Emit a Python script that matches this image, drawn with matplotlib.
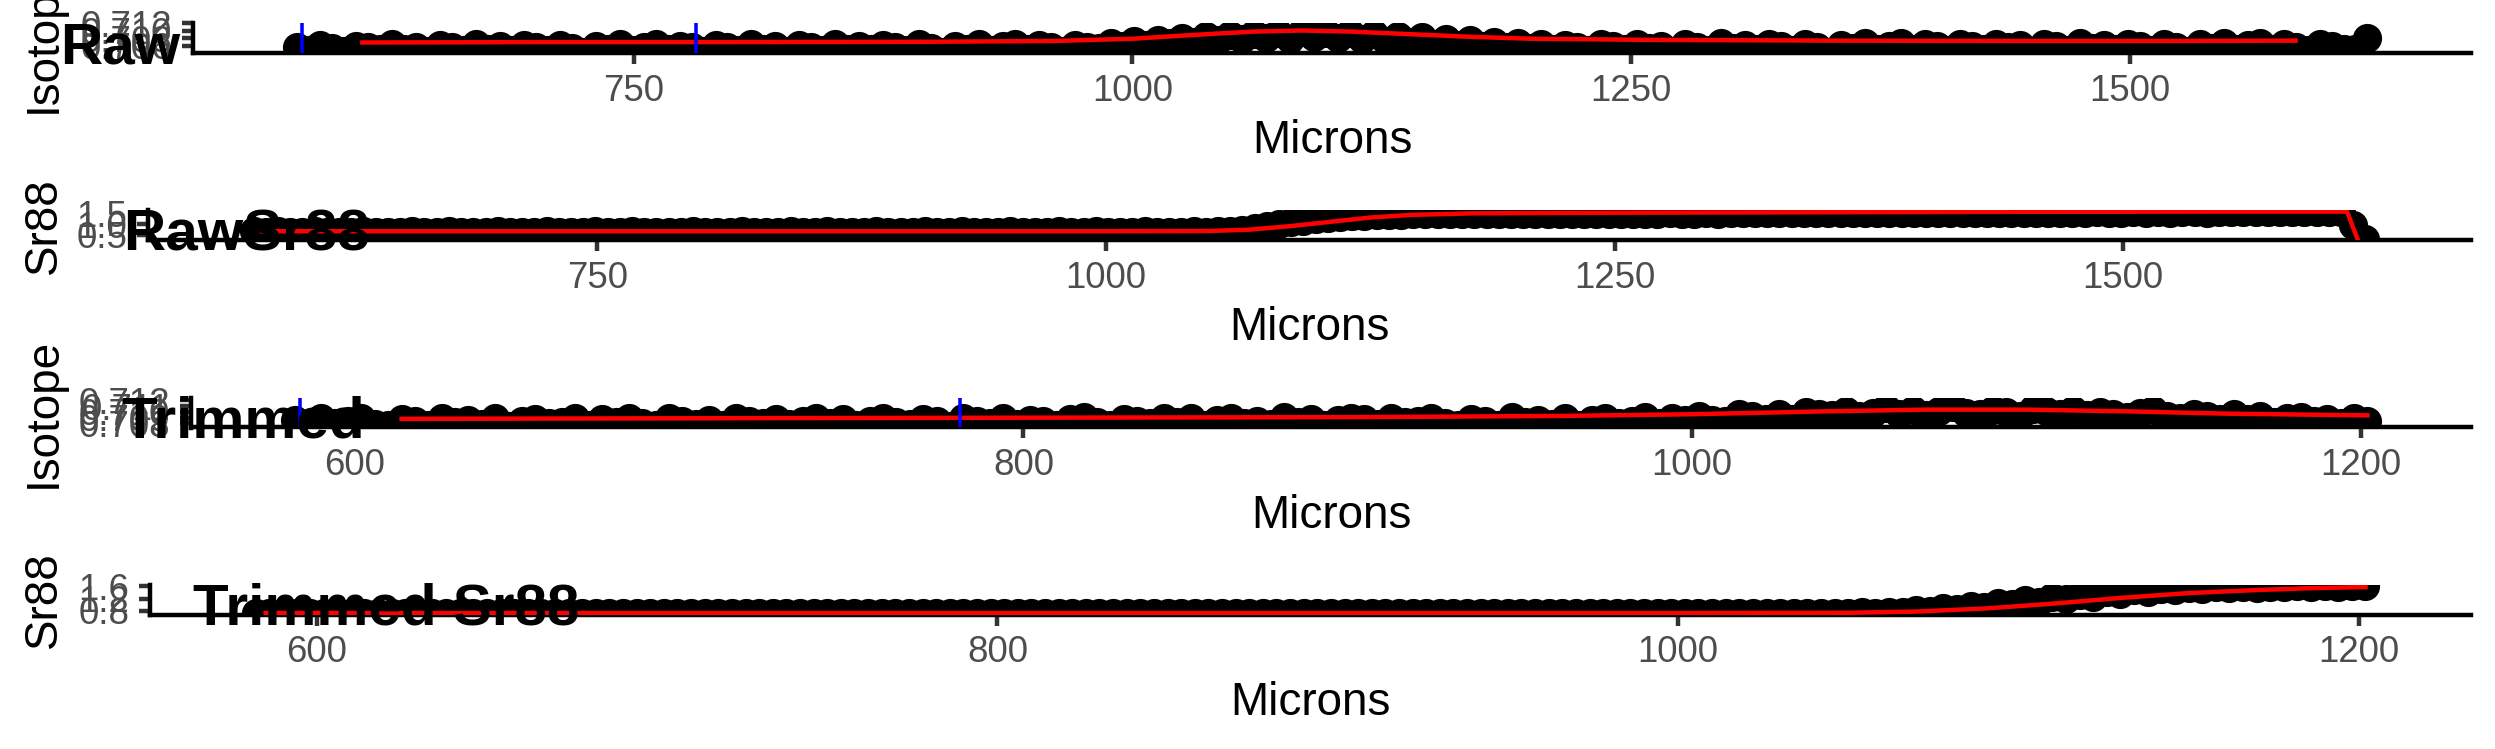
import numpy as np
import matplotlib
matplotlib.use("Agg")
import matplotlib.pyplot as plt

plt.rcParams['font.family'] = ['Liberation Sans', 'DejaVu Sans']

# laser transect: sample positions (microns), regular spacing
RAW_START, RAW_STEP, RAW_N = 581, 6, 174
TRIM_START, TRIM_STEP, TRIM_N = 582, 4, 156
raw_x = RAW_START + RAW_STEP * np.arange(RAW_N)
trim_x = TRIM_START + TRIM_STEP * np.arange(TRIM_N)

raw_iso = [
    0.7058, 0.7050, 0.7063, 0.7055, 0.7047, 0.7061, 0.7057, 0.7051, 0.7064, 0.7053,
    0.7058, 0.7046, 0.7062, 0.7056, 0.7049, 0.7065, 0.7052, 0.7059, 0.7050, 0.7062,
    0.7057, 0.7048, 0.7063, 0.7054, 0.7045, 0.7060, 0.7052, 0.7064, 0.7049, 0.7058,
    0.7066, 0.7051, 0.7061, 0.7056, 0.7047, 0.7062, 0.7057, 0.7050, 0.7064, 0.7053,
    0.7059, 0.7046, 0.7063, 0.7056, 0.7049, 0.7065, 0.7053, 0.7060, 0.7051, 0.7062,
    0.7058, 0.7048, 0.7064, 0.7055, 0.7044, 0.7061, 0.7053, 0.7064, 0.7050, 0.7059,
    0.7066, 0.7052, 0.7062, 0.7057, 0.7047, 0.7063, 0.7058,
    0.7054, 0.7067, 0.7060, 0.7072, 0.7062, 0.7077, 0.7068, 0.7082, 0.7071, 0.7086,
    0.7075, 0.7090, 0.7078, 0.7093,
    0.7082, 0.7095, 0.7079, 0.7096, 0.7085, 0.7094, 0.7080, 0.7095,
    0.7078, 0.7091, 0.7074, 0.7087, 0.7070, 0.7083, 0.7066, 0.7079, 0.7062, 0.7075,
    0.7059, 0.7071, 0.7056, 0.7068, 0.7054,
    0.7065, 0.7052, 0.7063, 0.7057, 0.7048, 0.7064, 0.7059, 0.7051, 0.7066, 0.7055,
    0.7061, 0.7046, 0.7065, 0.7058, 0.7050, 0.7067, 0.7055, 0.7062, 0.7052, 0.7064,
    0.7060, 0.7049, 0.7066, 0.7057, 0.7044, 0.7063, 0.7054, 0.7067, 0.7051, 0.7061,
    0.7067, 0.7053, 0.7064, 0.7059, 0.7048, 0.7065, 0.7060, 0.7052, 0.7066, 0.7056,
    0.7062, 0.7047, 0.7066, 0.7059, 0.7050, 0.7067, 0.7055, 0.7063, 0.7052, 0.7065,
    0.7060, 0.7049, 0.7066, 0.7057, 0.7046, 0.7064, 0.7055, 0.7067, 0.7051, 0.7062,
    0.7068, 0.7053, 0.7065, 0.7058, 0.7049, 0.7066, 0.7060, 0.7052, 0.7052, 0.7080,
]
raw_iso_fit_x = [614, 700, 800, 900, 960, 1000, 1030, 1060, 1085, 1110, 1140, 1170,
                 1200, 1260, 1350, 1450, 1520, 1583]
raw_iso_fit = [0.7069, 0.7070, 0.7070, 0.7071, 0.7073, 0.7079, 0.7089, 0.7098, 0.7101,
               0.7098, 0.7091, 0.7084, 0.7079, 0.7076, 0.7074, 0.7073, 0.7073, 0.7074]

raw_sr88 = [
    0.66, 0.65, 0.66, 0.64, 0.65, 0.66, 0.65, 0.64, 0.65, 0.66,
    0.65, 0.65, 0.64, 0.66, 0.65, 0.65, 0.66, 0.64, 0.65, 0.65,
    0.66, 0.65, 0.64, 0.65, 0.66, 0.65, 0.65, 0.64, 0.66, 0.65,
    0.65, 0.66, 0.65, 0.64, 0.65, 0.65, 0.66, 0.65, 0.64, 0.65,
    0.66, 0.65, 0.65, 0.64, 0.66, 0.65, 0.65, 0.66, 0.64, 0.65,
    0.65, 0.66, 0.65, 0.65, 0.64, 0.66, 0.65, 0.65, 0.66, 0.65,
    0.64, 0.65, 0.66, 0.65, 0.65, 0.64, 0.66, 0.65, 0.65, 0.66,
    0.65, 0.64, 0.65, 0.66, 0.65, 0.65, 0.64, 0.66, 0.65,
    0.66, 0.69, 0.75, 0.83, 0.92, 1.01, 1.09, 1.16, 1.22, 1.27,
    1.31, 1.35, 1.38, 1.40, 1.42, 1.43,
    1.44, 1.45, 1.44, 1.45, 1.46, 1.45, 1.46, 1.46, 1.45, 1.47,
    1.46, 1.47, 1.47, 1.46, 1.47, 1.48, 1.47, 1.48, 1.47, 1.48,
    1.48, 1.49, 1.48, 1.48, 1.49, 1.48, 1.49, 1.50, 1.49, 1.49,
    1.50, 1.49, 1.50, 1.50, 1.49, 1.50, 1.51, 1.50, 1.50, 1.51,
    1.50, 1.51, 1.51, 1.50, 1.51, 1.52, 1.51, 1.51, 1.52, 1.51,
    1.52, 1.51, 1.52, 1.52, 1.51, 1.52, 1.53, 1.52, 1.52, 1.53,
    1.52, 1.53, 1.52, 1.53, 1.53, 1.52, 1.53, 1.54, 1.53, 1.53,
    1.54, 1.53, 1.54, 1.53, 1.54, 1.54, 1.53,
    0.95, 0.32,
]
raw_sr88_fit_x = [585, 700, 800, 900, 1000, 1050, 1070, 1090, 1110, 1130, 1150, 1180,
                  1250, 1350, 1450, 1550, 1610, 1615]
raw_sr88_fit = [0.67, 0.67, 0.67, 0.67, 0.67, 0.68, 0.74, 0.90, 1.10, 1.30, 1.42, 1.49,
                1.52, 1.54, 1.56, 1.57, 1.57, 0.34]

trim_iso = [
    0.7086, 0.7078, 0.7089, 0.7081, 0.7084, 0.7090, 0.7079, 0.7077, 0.7088, 0.7084,
    0.7078, 0.7090, 0.7082, 0.7086, 0.7079, 0.7089, 0.7076, 0.7085, 0.7088, 0.7080,
    0.7083, 0.7090, 0.7077, 0.7087, 0.7082, 0.7089, 0.7080, 0.7078, 0.7090, 0.7085,
    0.7079, 0.7086, 0.7077, 0.7089, 0.7084, 0.7081, 0.7088, 0.7079, 0.7084, 0.7090,
    0.7080, 0.7088, 0.7077, 0.7085, 0.7090, 0.7082, 0.7079, 0.7087, 0.7084, 0.7076,
    0.7089, 0.7085, 0.7080, 0.7090, 0.7079, 0.7086, 0.7084, 0.7077, 0.7088, 0.7091,
    0.7082, 0.7078, 0.7087, 0.7085, 0.7080, 0.7090, 0.7082, 0.7089, 0.7078, 0.7086,
    0.7089, 0.7080, 0.7084, 0.7079, 0.7091, 0.7083, 0.7088, 0.7077, 0.7086, 0.7090,
    0.7087, 0.7079, 0.7090, 0.7082, 0.7085, 0.7090, 0.7080, 0.7077, 0.7088, 0.7084,
    0.7078, 0.7091, 0.7082, 0.7086, 0.7079, 0.7089, 0.7077, 0.7086, 0.7089, 0.7080,
    0.7084, 0.7091, 0.7080, 0.7090, 0.7086, 0.7093, 0.7086, 0.7085, 0.7097, 0.7093,
    0.7088, 0.7096, 0.7088, 0.7100, 0.7096, 0.7094, 0.7101, 0.7093, 0.7099, 0.7106,
    0.7097, 0.7104, 0.7094, 0.7102, 0.7108, 0.7099, 0.7096, 0.7103, 0.7100, 0.7093,
    0.7105, 0.7101, 0.7097,
    0.7104, 0.7094, 0.7100, 0.7097, 0.7091, 0.7099, 0.7103, 0.7093, 0.7089, 0.7096,
    0.7093, 0.7088, 0.7096, 0.7088, 0.7093, 0.7082, 0.7089, 0.7091, 0.7084,
    0.7087, 0.7081, 0.7090, 0.7085,
]
trim_iso_fit_x = [614, 700, 800, 900, 960, 1000, 1040, 1070, 1100, 1130, 1160, 1202]
trim_iso_fit = [0.7088, 0.7089, 0.7090, 0.7091, 0.7093, 0.7096, 0.7101, 0.7104, 0.7104,
                0.7101, 0.7097, 0.7094]

trim_sr88 = [
    0.71, 0.72, 0.71, 0.73, 0.72, 0.71, 0.72, 0.72, 0.71, 0.73,
    0.72, 0.71, 0.72, 0.72, 0.73, 0.71, 0.72, 0.71, 0.72, 0.73,
    0.72, 0.72, 0.71, 0.72, 0.73, 0.72, 0.71, 0.72, 0.72, 0.71,
    0.73, 0.72, 0.72, 0.71, 0.72, 0.73, 0.72, 0.71, 0.72, 0.72,
    0.71, 0.72, 0.73, 0.72, 0.71, 0.72, 0.72, 0.73, 0.71, 0.72,
    0.72, 0.71, 0.73, 0.72, 0.72, 0.71, 0.72, 0.73, 0.72, 0.71,
    0.72, 0.72, 0.73, 0.71, 0.72, 0.72, 0.71, 0.73, 0.72, 0.72,
    0.71, 0.72, 0.73, 0.72, 0.71, 0.72, 0.72, 0.73, 0.71, 0.72,
    0.72, 0.73, 0.72, 0.71, 0.72, 0.72, 0.73, 0.72, 0.71, 0.72,
    0.73, 0.72, 0.72, 0.71, 0.72, 0.73, 0.72, 0.72, 0.71, 0.72,
    0.72, 0.73, 0.71, 0.72, 0.72, 0.73, 0.72, 0.71, 0.72, 0.72,
    0.73, 0.72, 0.72, 0.71, 0.72, 0.73, 0.72, 0.72,
    0.74, 0.73, 0.77, 0.76, 0.82, 0.80, 0.89, 0.86, 0.97, 0.93,
    1.06, 1.01, 1.15, 1.09, 1.24, 1.17, 1.33, 1.26, 1.41, 1.34,
    1.48, 1.41, 1.52,
    1.48, 1.55, 1.51, 1.57, 1.54, 1.58, 1.56, 1.59, 1.57, 1.60,
    1.58, 1.60, 1.59, 1.61, 1.60,
]
trim_sr88_fit_x = [585, 700, 800, 900, 1000, 1050, 1070, 1090, 1110, 1130, 1150, 1170,
                   1185, 1202]
trim_sr88_fit = [0.72, 0.72, 0.72, 0.72, 0.72, 0.73, 0.77, 0.87, 1.03, 1.22, 1.38, 1.48,
                 1.54, 1.58]

spot_lines = [583.5, 781]   # blue markers on isotope panels

panel_titles = ["Raw", "RawSr88", "Trimmed", "Trimmed Sr88"]
y_titles = ["Isotope", "Sr88", "Isotope", "Sr88"]
raw_xticks = [750, 1000, 1250, 1500]
trim_xticks = [600, 800, 1000, 1200]
iso_raw_yticks = [0.706, 0.708, 0.710, 0.712]
iso_trim_yticks = [0.708, 0.709, 0.710, 0.711, 0.712]
sr_raw_yticks = [0.5, 1.0, 1.5]
sr_trim_yticks = [0.8, 1.2, 1.6]

W, H = 2495, 749
DPI = 300
fig = plt.figure(figsize=(W / DPI, H / DPI), dpi=DPI)
strip = H / 4

# (x, y, fit x, fit y, x ticks, y ticks, tick format, blue lines?, left edge px, y limits)
panels = [
    (raw_x, raw_iso, raw_iso_fit_x, raw_iso_fit, raw_xticks, iso_raw_yticks, "{:.3f}", True, 193, (0.7041, 0.7121)),
    (raw_x, raw_sr88, raw_sr88_fit_x, raw_sr88_fit, raw_xticks, sr_raw_yticks, "{:.1f}", False, 148, None),
    (trim_x, trim_iso, trim_iso_fit_x, trim_iso_fit, trim_xticks, iso_trim_yticks, "{:.3f}", True, 191, (0.7073, 0.7125)),
    (trim_x, trim_sr88, trim_sr88_fit_x, trim_sr88_fit, trim_xticks, sr_trim_yticks, "{:.1f}", False, 150, None),
]

labels = []
for k, (xs, ys, fx, fy, xt, yt, fmt, blue, left, ylim) in enumerate(panels):
    top = k * strip
    ax = fig.add_axes([left / W, 1 - (top + 53) / H, (2471 - left) / W, 30 / H])
    ax.plot(xs, ys, 'o', color='black', ms=7, mew=0, zorder=2)
    ax.plot(fx, fy, color='red', lw=1.07, zorder=3)
    if blue:
        for v in spot_lines:
            ax.axvline(v, color='blue', lw=0.85, zorder=4)
    ax.margins(x=0.05, y=0.05)
    if ylim:
        ax.set_ylim(*ylim)
    ax.set_xticks(xt)
    ax.set_yticks(yt)
    ax.set_yticklabels([fmt.format(v) for v in yt])
    for s in ['top', 'right']:
        ax.spines[s].set_visible(False)
    for s in ['left', 'bottom']:
        ax.spines[s].set_linewidth(1.07)
        ax.spines[s].set_color('black')
    ax.tick_params(length=2.75, width=1.07, color='#333333', labelsize=8.8,
                   labelcolor='#4D4D4D', pad=2.2)
    ax.set_xlabel("Microns", fontsize=11, labelpad=2.5)

    fig.text(44 / W, 1 - (top + 38) / H, y_titles[k], rotation=90, fontsize=11,
             ha='center', va='center')
    t = fig.text(0, 1 - (top + 63) / H, panel_titles[k], fontsize=14,
                 fontweight='bold', ha='left', va='baseline', zorder=10)
    labels.append(t)

# cowplot-style labels: shifted right by half their own width
fig.canvas.draw()
r = fig.canvas.get_renderer()
for t in labels:
    bb = t.get_window_extent(renderer=r)
    t.set_x(0.5 * bb.width / W)

fig.savefig("out.png", dpi=DPI)
